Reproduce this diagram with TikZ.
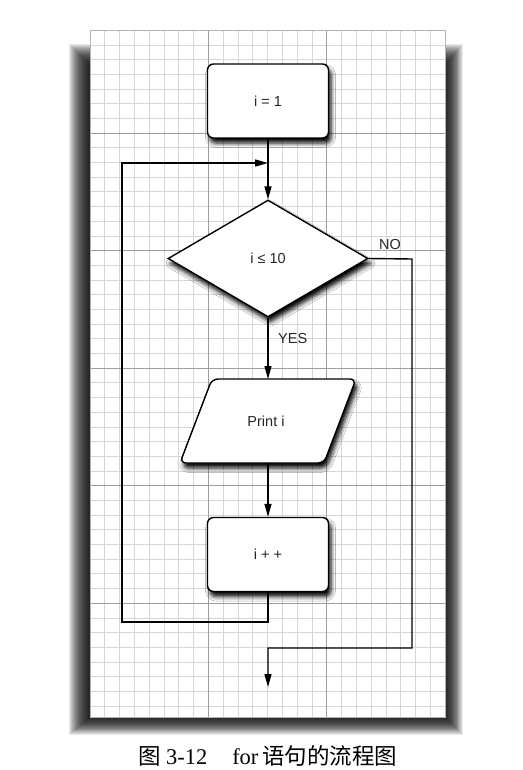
\documentclass[tikz,border=0pt]{standalone}
\usepackage{fontspec}
\setmainfont{Liberation Serif}
\newfontfamily\cjkfont{Noto Sans CJK SC}
\newfontfamily\diagfont{Liberation Sans}
\usetikzlibrary{arrows.meta,shapes.geometric,shadows.blur}
\tikzset{
  minorline/.style={draw=black!16, line width=0.6pt},
  majorline/.style={draw=black!38, line width=0.7pt},
  diagtext/.style={font=\diagfont\fontsize{14.5pt}{17pt}\selectfont, text=black!85},
  boxshadow/.style={blur shadow={shadow xshift=2.5pt, shadow yshift=-5pt, shadow blur radius=4.5pt, shadow opacity=100}},
  stepbox/.style={draw=black, line width=1.4pt, fill=white, rounded corners=6pt,
    minimum width=121pt, minimum height=74pt, inner sep=0pt, diagtext, boxshadow},
  decision/.style={diamond, draw=black, line width=1.4pt, fill=white,
    minimum width=200pt, minimum height=117pt, inner sep=0pt, diagtext, boxshadow},
  conn/.style={draw=black, line width=1.4pt, -{Triangle[length=13pt,width=7pt]}},
  lbl/.style={diagtext, inner sep=0pt},
  shadowlayer/.style={fill=black, fill opacity=0.085},
}
\begin{document}
\begin{tikzpicture}[x=1pt,y=-1pt]
\useasboundingbox (0,0) rectangle (522,770);
% panel shadow (layered) and panel
\foreach \i in {1,...,22} {
  \fill[shadowlayer] ({91-\i},{66-\i}) rectangle ({444+0.85*\i},{716+0.85*\i});
}
\fill[white] (90,30) rectangle (445,717);
% grid
\foreach \k in {0,...,24} {
  \pgfmathsetmacro\xx{90+\k*14.79}
  \draw[minorline] (\xx,30) -- (\xx,717);
}
\foreach \k in {0,...,46} {
  \pgfmathsetmacro\yy{30.2+\k*14.69}
  \draw[minorline] (90,\yy) -- (445,\yy);
}
\foreach \k in {8,16} {
  \pgfmathsetmacro\xx{90+\k*14.79}
  \draw[majorline] (\xx,30) -- (\xx,717);
}
\foreach \k in {7,15,23,31,39} {
  \pgfmathsetmacro\yy{30.2+\k*14.69}
  \draw[majorline] (90,\yy) -- (445,\yy);
}
\draw[draw=black!30, line width=0.6pt] (90,30) rectangle (445,717);

% nodes
\node[stepbox] (init) at (268,101) {i = 1};
\node[decision] (cond) at (268,258.5) {i ≤ 10};
\path[boxshadow, draw=black, line width=1.4pt, fill=white, rounded corners=6pt]
  (212,379) -- (356,379) -- (324,463) -- (180,463) -- cycle;
\node[lbl] (print) at (266,421) {Print i};
\coordinate (ptop) at (268,379);
\coordinate (pbot) at (268,463);
\node[stepbox] (inc) at (268,554.5) {i + +};

\coordinate (merge) at (268,163);
\coordinate (loopbr) at (268,622);
\coordinate (loopbl) at (122,622);
\coordinate (looptl) at (122,163);
\coordinate (noright) at (412,259);
\coordinate (nodown) at (412,648);
\coordinate (exitturn) at (268,648);
\coordinate (exit) at (268,687);

\node[lbl] (nolbl) at (390,245) {NO};
\node[lbl, anchor=west] (yeslbl) at (278,339) {YES};

% connectors
\draw[conn] (init) -- (cond);
\draw[conn] (cond) -- (ptop);
\draw[conn] (pbot) -- (inc);
\draw[conn] (inc.south) -- (loopbr) -- (loopbl) -- (looptl) -- (merge);
\draw[conn] (cond.east) -- (noright) -- (nodown) -- (exitturn) -- (exit);

% caption
\node[font=\fontsize{22.5pt}{27pt}\selectfont, inner sep=0pt] (caption) at (268,756)
  {{\cjkfont 图}\hspace{5pt}3-12\hspace{25pt}for\hspace{4pt}{\cjkfont 语句的流程图}};
\end{tikzpicture}
\end{document}
